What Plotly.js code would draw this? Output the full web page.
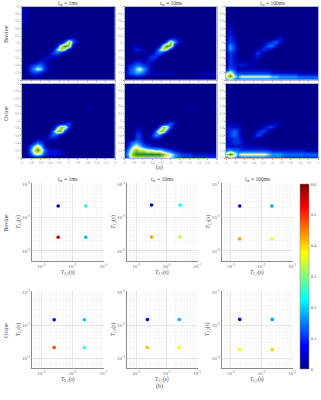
<!DOCTYPE html>
<html><head><meta charset="utf-8">
<script src="https://cdn.plot.ly/plotly-3.0.1.min.js"></script>
<style>html,body{margin:0;padding:0;background:#fff}#c{width:321px;height:400px}</style>
</head><body><div id="c"></div>
<script>
// Heatmap intensity (0 background ... 10 strongest), top row first
const bovine1ms=[
[1,1,0,0,0,0,0,0,0,0,0,0,0,0,0,0,0,0,0,0,0,0,0,0,0],
[1,1,0,0,0,0,0,0,0,0,0,0,0,0,0,0,0,0,0,0,0,0,0,0,0],
[1,1,0,0,0,0,0,0,0,0,0,0,0,0,0,0,0,0,0,0,0,0,0,0,0],
[1,1,0,0,0,0,0,0,0,0,0,0,0,0,0,0,0,0,0,0,0,0,0,0,0],
[1,1,0,0,0,0,0,0,0,0,0,0,0,0,0,0,0,0,0,0,0,0,0,0,0],
[0,1,0,0,0,0,0,0,0,0,0,0,0,0,0,0,0,0,0,0,0,0,0,0,0],
[0,1,0,0,0,0,0,0,0,0,0,0,0,0,0,0,0,0,0,0,0,0,0,0,0],
[0,0,0,0,0,0,0,0,0,0,0,0,0,0,0,0,0,0,0,0,0,0,0,0,0],
[0,0,0,0,0,0,0,0,0,0,0,0,1,2,1,0,0,0,0,0,0,0,0,0,0],
[0,0,0,0,0,0,0,0,0,0,0,4,9,5,2,1,0,0,0,0,0,0,0,0,0],
[0,0,0,0,0,0,0,0,0,2,8,10,9,2,0,0,0,0,0,0,0,0,0,0,0],
[0,0,0,0,0,0,0,0,1,6,9,7,1,0,0,0,0,0,0,0,0,0,0,0,0],
[0,0,0,0,0,0,0,1,3,4,2,0,0,0,0,0,0,0,0,0,0,0,0,0,0],
[0,0,0,0,0,0,1,2,2,1,0,0,0,0,0,0,0,0,0,0,0,0,0,0,0],
[0,0,0,0,1,2,2,1,0,0,0,0,0,0,0,0,0,0,0,0,0,0,0,0,0],
[0,0,2,3,4,4,2,1,0,0,0,0,0,0,0,0,0,0,0,0,0,0,0,0,0],
[0,1,3,5,7,6,3,1,0,0,0,0,0,0,0,0,0,0,0,0,0,0,0,0,0],
[0,0,2,3,3,2,1,0,0,0,0,0,0,0,0,0,0,0,0,0,0,0,0,0,0],
[0,0,0,1,1,0,0,0,0,0,0,0,0,0,0,0,0,0,0,0,0,0,0,0,0],
[0,0,0,0,0,0,0,0,0,0,0,0,0,0,0,0,0,0,0,0,0,0,0,0,0]];
const bovine10ms=[
[0,0,0,0,0,0,0,0,0,0,0,0,0,0,0,0,0,0,0,0,0,0,0,0,0],
[0,0,0,0,0,0,0,0,0,0,0,0,0,0,0,0,0,0,0,0,0,0,0,0,0],
[0,0,0,0,0,0,0,0,0,0,0,0,0,0,0,0,0,0,0,0,0,0,0,0,0],
[0,0,0,0,0,0,0,0,0,0,0,0,0,0,0,0,0,0,0,0,0,0,0,0,0],
[0,0,0,0,0,0,0,0,0,0,0,0,0,0,0,0,0,0,0,0,0,0,0,0,0],
[0,0,0,0,0,0,0,0,0,0,0,0,0,0,0,0,0,0,0,0,0,0,0,0,0],
[0,0,0,0,0,0,0,0,0,0,0,0,0,0,0,0,0,0,0,0,0,0,0,0,0],
[0,0,0,0,0,0,0,0,0,0,0,0,0,0,0,0,0,0,0,0,0,0,0,0,0],
[0,0,0,0,0,0,0,0,0,0,0,0,1,2,1,0,0,0,0,0,0,0,0,0,0],
[0,0,0,0,0,0,0,0,0,0,0,4,9,5,2,1,0,0,0,0,0,0,0,0,0],
[0,0,1,1,1,0,0,0,0,2,8,10,9,2,0,0,0,0,0,0,0,0,0,0,0],
[0,0,1,3,2,1,0,0,2,6,9,7,1,0,0,0,0,0,0,0,0,0,0,0,0],
[0,0,0,1,1,0,0,1,3,4,2,0,0,0,0,0,0,0,0,0,0,0,0,0,0],
[0,0,0,0,0,0,2,3,3,1,0,0,0,0,0,0,0,0,0,0,0,0,0,0,0],
[0,0,1,2,2,1,2,2,1,0,0,0,0,0,0,0,0,0,0,0,0,0,0,0,0],
[0,2,3,4,4,3,2,1,0,0,0,0,0,0,0,0,0,0,0,0,0,0,0,0,0],
[0,3,4,6,7,5,3,1,0,0,0,0,0,0,0,0,0,0,0,0,0,0,0,0,0],
[1,3,4,5,5,4,2,1,1,1,1,1,1,1,0,0,0,0,0,0,0.5,1,1,1,1],
[0,1,2,2,2,1,0,0,0,0,0,0,0,0,0,0,0,0,0,0.5,1,1,1,1,1],
[0,0,0,0,0,0,0,0,0,0,0,0,0,0,0,0,0,0,0,0,0,0,0,0,0]];
const bovine100ms=[
[0,0,0,0,0,0,0,0,0,0,0,0,0,0,0,0,0,0,0,0,0,0,0,0,0],
[0,0,0,0,0,0,0,0,0,0,0,0,0,0,0,0,0,0,0,0,0,0,0,0,0],
[0,0,0,0,0,0,0,0,0,0,0,0,0,0,0,0,0,0,0,0,0,0,0,0,0],
[0,0,0,0,0,0,0,0,0,0,0,0,0,0,0,0,0,0,0,0,0,0,0,0,0],
[0,1,0,0,0,0,0,0,0,0,0,0,0,0,0,0,0,0,0,0,0,0,0,0,0],
[0,1,0,0,0,0,0,0,0,0,0,0,0,0,0,0,0,0,0,0,0,0,0,0,0],
[1,2,1,0,0,0,0,0,0,0,0,0,0,0,0,0,0,0,0,0,0,0,0,0,0],
[1,2,1,0,0,0,0,0,0,0,0,0,0,0,0,0,0,0,0,0,0,0,0,0,0],
[1,3,2,0,0,0,0,0,0,0,0,0,0,1,2,1,0,0,0,0,0,0,0,0,0],
[2,3,2,1,0,0,0,0,0,0,1,2,3,4,2,1,0,0,0,0,0,0,0,0,0],
[2,5,3,1,0,0,0,0,0,1,2,4,4,2,0,0,0,0,0,0,0,0,0,0,0],
[2,5,3,1,0,0,0,0,1,2,3,2,1,0,0,0,0,0,0,0,0,0,0,0,0],
[1,3,2,1,0,0,0,1,3,2,1,0,0,0,0,0,0,0,0,0,0,0,0,0,0],
[1,3,2,1,0,0,0,1,2,1,0,0,0,0,0,0,0,0,0,0,0,0,0,0,0],
[1,3,2,1,1,1,1,1,1,0,0,0,0,0,0,0,0,0,0,0,0,0,0,0,0],
[1,3,2,2,2,2,1,1,0,0,0,0,0,0,0,0,0,0,0,0,0,0,0,0,0],
[2,4,3,1,1,1,1,1,1,1,1,1,0.5,0,0,0,0,0,0,0,0,0,0,0,0],
[6,8,5,3,3,3,3,3,3,3,3,3,2,2,2,2,2,2,2,1,1,1,1,1,1],
[8,10,7,5,7,7,7,7,7,7,7,7,6,6,5,5,5,5,5,4,4,4,4,4,4],
[4,5,4,4,4,4,4,4,4,4,4,4,4,4,4,4,4,4,4,4,4,4,4,4,4]];
const ovine1ms=[
[0,0,0,0,0,0,0,0,0,0,0,0,0,0,0,0,0,0,0,0,0,0,0,0,0],
[0,0,0,0,0,0,0,0,0,0,0,0,0,0,0,0,0,0,0,0,0,0,0,0,0],
[0,0,0,0,0,0,0,0,0,0,0,0,0,0,0,0,0,0,0,0,0,0,0,0,0],
[0,0,0,0,0,0,0,0,0,0,0,0,0,0,0,0,0,0,0,0,0,0,0,0,0],
[0,0,0,0,0,0,0,0,0,0,0,0,0,0,0,0,0,0,0,0,0,0,0,0,0],
[0,0,0,0,0,0,0,0,0,0,0,0,0,0,0,0,0,0,0,0,0,0,0,0,0],
[0,0,0,0,0,0,0,0,0,0,0,0,0,0,0,0,0,0.6,0.6,0,0,0,0,0,0],
[0,0,0,0,0,0,0,0,0,0,0,0,0,0,0,0,0,0,0,0,0,0,0,0,0],
[0,0,0,0,0,0,0,0,0,0,0,0,0,0,0,0,0,0,0,0,0,0,0,0,0],
[0,0,0,0,0,0,0,0,0,0,0,0,0,0,0,0,0,0,0,0,0,0,0,0,0],
[0,0,0,0,0,0,0,0,0,0,1,2,3,1,0,0,0,0,0,0,0,0,0,0,0],
[0,0,0,0,0,0,0,0,0,5,9,8,3,0,0,0,0,0,0,0,0,0,0,0,0],
[0,0,0,0,0,0,0,0,4,9,9,3,0,0,0,0,0,0,0,0,0,0,0,0,0],
[0,0,0,0,0,0,0,2,4,3,1,0,0,0,0,0,0,0,0,0,0,0,0,0,0],
[0,0,0,0,1,1,1,2,2,1,0,0,0,0,0,0,0,0,0,0,0,0,0,0,0],
[0,0,0,2,4,3,1,0,0,0,0,0,0,0,0,0,0,0,0,0,0,0,0,0,0],
[0,0,3,6,8,6,2,0,0,0,0,0,0,0,0,0,0,0,0,0,0,0,0,0,0],
[0,0,4,8,10,8,4,2,2,2,1,0,0,0,0,0,0,0,0,0,0,0,0,0,0],
[0,0,3,6,7,6,3,2,2,2,1,1,0,0,0,0,0,0,0,0,0,0,0,0,0],
[0,0,0,1,1,1,0,0,0,0,0,0,0,0,0,0,0,0,0,0,0,0,0,0,0]];
const ovine10ms=[
[0,0,0,0,0,0,0,0,0,0,0,0,0,0,0,0,0,0,0,0,0,0,0,0,0],
[0,0,0,0,0,0,0,0,0,0,0,0,0,0,0,0,0,0,0,0,0,0,0,0,0],
[0,0,0,0,0,0,0,0,0,0,0,0,0,0,0,0,0,0,0,0,0,0,0,0,0],
[0,0,0,0,0,0,0,0,0,0,0,0,0,0,0,0,0,0,0,0,0,0,0,0,0],
[0,0,0,0,0,0,0,0,0,0,0,0,0,0,0,0,0,0,0,0,0,0,0,0,0],
[0,0,0,0,0,0,0,0,0,0,0,0,0,0,0,0,0,0,0,0,0,0,0,0,0],
[0,0,0,0,0,0,0,0,0,0,0,0,0,0,0,0,0,0.7,0.7,0,0,0,0,0,0],
[0,0,0,0,0,0,0,0,0,0,0,0,0,0,0,0,0,0,0,0,0,0,0,0,0],
[0,0,0,0,0,0,0,0,0,0,0,0,0,0,0,0,0,0,0,0,0,0,0,0,0],
[0,0,0,0,0,0,0,0,0,0,0,0,0,0,0,0,0,0,0,0,0,0,0,0,0],
[0,0,0,0,0,0,0,0,0,0,0,2,4,2,0,0,0,0,0,0,0,0,0,0,0],
[0,0,0,1,1,0,0,0,0,4,9,8,3,0,0,0,0,0,0,0,0,0,0,0,0],
[0,0,0,2,2,0,0,0,4,9,9,4,0,0,0,0,0,0,0,0,0,0,0,0,0],
[0,0,0,3,3,1,0,2,5,4,1,0,0,0,0,0,0,0,0,0,0,0,0,0,0],
[0,0,0,3,3,1,0,2,2,1,0,0,0,0,0,0,0,0,0,0,0,0,0,0,0],
[0,2,4,5,4,2,1,0,0,0,0,0,0,0,0,0,0,0,0,0,0,0,0,0,0],
[0,3,6,7,6,4,3,2,2,1,1,0,0,0,0,0,0,0,0,0,0,0,0,0,0],
[2,5,8,9,8,8,7,7,6,6,5,4,3,2,1,1,0,0,0,0,0,0,0,0,0],
[3,6,9,10,10,10,10,10,10,10,9,8,7,5,4,3,3,3,2,2,2,2,2,2,2],
[2,5,8,8,8,8,8,8,8,8,8,7,6,5,4,3,3,3,3,3,3,3,3,3,3]];
const ovine100ms=[
[0,0,0,0,0,0,0,0,0,0,0,0,0,0,0,0,0,0,0,0,0,0,0,0,0],
[0,0,0,0,0,0,0,0,0,0,0,0,0,0,0,0,0,0,0,0,0,0,0,0,0],
[0,0,0,0,0,0,0,0,0,0,0,0,0,0,0,0,0,0,0,0,0,0,0,0,0],
[0,0,0,0,0,0,0,0,0,0,0,0,0,0,0,0,0,0,0,0,0,0,0,0,0],
[0,0,0,0,0,0,0,0,0,0,0,0,0,0,0,0,0,0,0,0,0,0,0,0,0],
[0,0,0,0,0,0,0,0,0,0,0,0,0,0,0,0,0,0,0,0,0,0,0,0,0],
[0,0,0,0,0,0,0,0,0,0,0,0,0,0,0,0,0,0,0,0,0,0,0,0,0],
[0,0,0,0,0,0,0,0,0,0,0,0,0,0,0,0,0,0,0,0,0,0,0,0,0],
[0,0,0,0,0,0,0,0,0,0,0,0,0,0,0,0,0,0,0,0,0,0,0,0,0],
[0.5,0.5,0.5,0,0,0,0,0,0,0,0,0,0,0,0,0,0,0,0,0,0,0,0,0,0],
[1,1,1,1,0,0,0,0,0,0,0,1,1,2,1,0,0,0,0,0,0,0,0,0,0],
[2,2,2,2,1,0,0,0,0,1,2,3,3,1,0,0,0,0,0,0,0,0.7,0.7,0,0],
[2,3,4,3,1,0,0,0,2,3,3,1,0,0,0,0,0,0,0,0,0,0,0,0,0],
[2,3,4,3,1,0,0,1,3,3,1,0,0,0,0,0,0,0,0,0,0,0,0,0,0],
[2,2,3,3,2,0,0,1,1,0,0,0,0,0,0,0,0,0,0,0,0,0,0,0,0],
[2,2,3,3,2,1,1,0,0,0,0,0,0,0,0,0,0,0,0,0,0,0,0,0,0],
[2,2,2,2,2,1,1,1,1,1,1,0.5,0,0,0,0,0,0,0,0,0,0,0,0,0],
[4,5,4,4,3,3,3,3,3,3,3,3,2,2,2,2,2,2,2,2,2,1,1,1,1],
[8,10,8,5,7,7,7,7,7,7,7,6,5,5,5,4,4,4,4,4,4,4,4,4,4],
[4,5,5,4,4,4,4,4,4,4,4,4,4,4,4,3,3,3,3,3,3,3,3,3,3]];
// Peak coordinates of the scatter panels
const t21Bovine=[[0.0035,0.027],[0.0032,0.028],[0.00195,0.022]];
const t22Bovine=[[0.022,0.00257],[0.0236,0.0026],[0.022,0.0023]];
const t21Ovine=[[0.0026,0.0245],[0.00235,0.026],[0.00195,0.0225]];
const t22Ovine=[[0.0144,0.0021],[0.0146,0.0021],[0.0148,0.0018]];
// Order: top-left, top-right, bottom-left, bottom-right
const fractionBovine=[[0.03,0.24,0.57,0.19],[0.03,0.23,0.43,0.33],[0.05,0.17,0.43,0.37]];
const fractionOvine=[[0.07,0.19,0.48,0.26],[0.07,0.18,0.41,0.37],[0.07,0.17,0.37,0.40]];
const mixingTimes=['1ms','10ms','100ms'];
const rowNames=['Bovine','Ovine'];
const heatTickText=['-3','-2.8','-2.6','-2.4','-2.2','-2','-1.8','-1.6','-1.4','-1.2','-1'];
const logTickVals=[0.001,0.01,0.1];
const logTickText=['10<sup>-3</sup>','10<sup>-2</sup>','10<sup>-1</sup>'];
const minorTickVals=[0.0006,0.0007,0.0008,0.0009,0.002,0.003,0.004,0.005,0.006,0.007,0.008,0.009,0.02,0.03,0.04,0.05,0.06,0.07,0.08,0.09];
const colorbarTicks=[0,0.1,0.2,0.3,0.4,0.5,0.6];

const W=321,H=400,FONT='"Liberation Serif", serif';
const px=v=>v/W, py=v=>1-v/H;
const heatScale=[[0,'#000088'],[0.1,'#0000a8'],[0.2,'#0010c8'],[0.3,'#0034e8'],[0.4,'#0064ff'],[0.5,'#2498ff'],[0.6,'#78d4ff'],[0.67,'#e0f8e8'],[0.72,'#ffff80'],[0.84,'#a8e048'],[1,'#208a30']];
const jetScale=[[0,'#00008f'],[0.125,'#0000ff'],[0.375,'#00ffff'],[0.625,'#ffff00'],[0.875,'#ff0000'],[1,'#800000']];
const heatX=[[21.7,115],[124.5,216.7],[226,318]];
const heatY=[[6.7,80],[84,158]];
const scatX=[[32,104],[127,197.7],[221.7,292.7]];
const scatY=[[183,260.7],[291,367.7]];
const heatData=[[bovine1ms,bovine10ms,bovine100ms],[ovine1ms,ovine10ms,ovine100ms]];
const scatT21=[t21Bovine,t21Ovine],scatT22=[t22Bovine,t22Ovine],scatF=[fractionBovine,fractionOvine];
const traces=[],layout={width:W,height:H,margin:{l:0,r:0,t:0,b:0},paper_bgcolor:'#fff',plot_bgcolor:'#fff',showlegend:false,font:{family:FONT,color:'#444'},annotations:[]};
function note(text,x,y,size,angle,color){layout.annotations.push({text,x:px(x),y:py(y),xref:'paper',yref:'paper',showarrow:false,xanchor:'center',yanchor:'middle',textangle:angle||0,font:{family:FONT,size,color:color||'#444'}});}
let n=1;
for(let r=0;r<2;r++)for(let c=0;c<3;c++,n++){
  traces.push({type:'heatmap',z:heatData[r][c],xaxis:'x'+n,yaxis:'y'+n,zmin:0,zmax:10,zsmooth:'best',colorscale:heatScale,showscale:false,hoverinfo:'skip'});
  const tickv=heatTickText.map((_,i)=>i*2.4);
  const base={range:[0,24],tickmode:'array',tickvals:tickv,ticktext:heatTickText,tickfont:{size:3,color:'#888',family:FONT},ticks:'outside',ticklen:1,tickcolor:'#aaa',showgrid:false,zeroline:false,showline:true,linecolor:'#b4b6d0',linewidth:1,mirror:true};
  layout['xaxis'+n]={...base,domain:[px(heatX[c][0]),px(heatX[c][1])],anchor:'y'+n};
  layout['yaxis'+n]={...base,range:[19,0],tickvals:tickv.map(v=>v*19/24),domain:[py(heatY[r][1]),py(heatY[r][0])],anchor:'x'+n};
  if(r===0)note('<i>t</i><sub>m</sub> = '+mixingTimes[c],(heatX[c][0]+heatX[c][1])/2,3.5,5.5);
}
for(let r=0;r<2;r++)for(let c=0;c<3;c++,n++){
  const xs=scatT21[r][c],ys=scatT22[r][c];
  const first=(r===0&&c===0);
  traces.push({type:'scatter',mode:'markers',xaxis:'x'+n,yaxis:'y'+n,hoverinfo:'skip',
    x:[xs[0],xs[1],xs[0],xs[1]],y:[ys[0],ys[0],ys[1],ys[1]],
    marker:{size:3.6,color:scatF[r][c],cmin:0,cmax:0.6,colorscale:jetScale,showscale:first,line:{width:0},
      colorbar:first?{x:px(300),xanchor:'left',y:py(369),yanchor:'bottom',len:185/H,lenmode:'fraction',thickness:9,thicknessmode:'pixels',xpad:0,ypad:0,tickmode:'array',tickvals:colorbarTicks,ticktext:colorbarTicks.map(String),tickfont:{size:4.5,family:FONT,color:'#555'},ticks:'',outlinewidth:0.5,outlinecolor:'#888'}:undefined}});
  const base={type:'log',tickmode:'array',tickvals:logTickVals,ticktext:logTickText,tickfont:{size:5,color:'#666',family:FONT},ticks:'',showgrid:true,gridcolor:'#e6e6e6',gridwidth:1,zeroline:false,showline:true,linecolor:'#8c8c8c',linewidth:1,minor:{tickmode:'array',tickvals:minorTickVals,showgrid:true,gridcolor:'#f3f3f3',gridwidth:0.5,ticks:''}};
  layout['xaxis'+n]={...base,range:[-3.3,-0.98],domain:[px(scatX[c][0]),px(scatX[c][1])],anchor:'y'+n};
  layout['yaxis'+n]={...base,range:[-3.29,-0.97],domain:[py(scatY[r][1]),py(scatY[r][0])],anchor:'x'+n};
  const xm=(scatX[c][0]+scatX[c][1])/2,ym=(scatY[r][0]+scatY[r][1])/2;
  note('<i>T</i><sub>2,1</sub>(<i>s</i>)',xm,scatY[r][1]+12,5.5);
  note('<i>T</i><sub>2,2</sub>(<i>s</i>)',scatX[c][0]-13,ym,5.5,-90);
  if(r===0)note('<i>t</i><sub>m</sub> = '+mixingTimes[c],xm,179,5.5);
}
note(rowNames[0],6,34,6,-90);note(rowNames[1],6,113,6,-90);
note(rowNames[0],6,222.7,6,-90);note(rowNames[1],6,330,6,-90);
note('(a)',159,167.5,6);note('(b)',159,386.5,6);
Plotly.newPlot('c',traces,layout,{staticPlot:true,displayModeBar:false});
</script></body></html>
